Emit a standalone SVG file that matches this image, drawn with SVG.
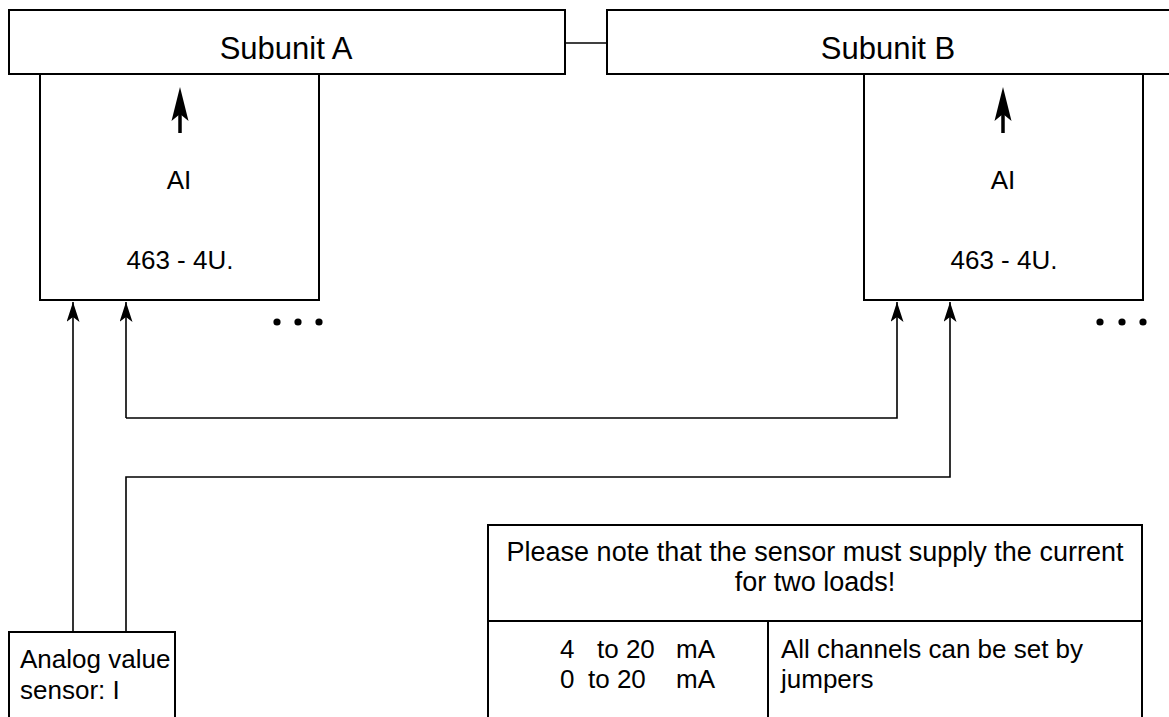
<svg xmlns="http://www.w3.org/2000/svg" xmlns:xlink="http://www.w3.org/1999/xlink" width="1169" height="717" viewBox="0 0 1169 717">
<style>
.box{fill:none;stroke:#000;stroke-width:2}
.wire{fill:none;stroke:#000;stroke-width:1.6}
.t{font-family:"Liberation Sans",Arial,sans-serif;font-size:26px;fill:#000}
.n{font-family:"Liberation Sans",Arial,sans-serif;font-size:27px;fill:#000}
.h{font-family:"Liberation Sans",Arial,sans-serif;font-size:31px;fill:#000}
.dot{fill:#000}
</style>
<defs>
<marker id="ah" viewBox="-20 -6.5 20 13" refX="0" refY="0" markerWidth="20" markerHeight="13" markerUnits="userSpaceOnUse" orient="auto">
<path d="M0,0 L-20,-6.5 L-15,0 L-20,6.5 Z" fill="#000"/>
</marker>
<g id="bigarrow">
<line x1="0" y1="22" x2="0" y2="46" stroke="#000" stroke-width="3.5"/>
<path d="M0,0 L-8.5,34 L0,27 L8.5,34 Z" fill="#000"/>
</g>
</defs>
<rect width="1169" height="717" fill="#fff"/>
<g id="subunitA">
<rect class="box" x="9" y="10" width="556" height="64"/>
<text class="h" x="286" y="59" text-anchor="middle">Subunit A</text>
</g>
<g id="subunitB">
<rect class="box" x="607" y="10" width="580" height="64"/>
<text class="h" x="888" y="59" text-anchor="middle">Subunit B</text>
</g>
<g id="moduleA">
<path class="box" d="M40,74 V300 H319 V74"/>
<use xlink:href="#bigarrow" x="180" y="87"/>
<text class="t" x="179" y="189" text-anchor="middle">AI</text>
<text class="t" x="180" y="269" text-anchor="middle">463 - 4U.</text>
<circle class="dot" cx="277" cy="322" r="3.6"/>
<circle class="dot" cx="298" cy="322" r="3.6"/>
<circle class="dot" cx="319" cy="322" r="3.6"/>
</g>
<g id="moduleB">
<path class="box" d="M864,74 V300 H1143 V74"/>
<use xlink:href="#bigarrow" x="1003" y="87"/>
<text class="t" x="1003" y="189" text-anchor="middle">AI</text>
<text class="t" x="1004" y="269" text-anchor="middle">463 - 4U.</text>
<circle class="dot" cx="1100" cy="322" r="3.6"/>
<circle class="dot" cx="1122" cy="322" r="3.6"/>
<circle class="dot" cx="1143" cy="322" r="3.6"/>
</g>
<g id="sensor">
<path class="box" d="M9,720 V632 H175 V720"/>
<text class="t" x="20" y="668">Analog value</text>
<text class="t" x="20" y="699">sensor: I</text>
</g>
<g id="note">
<path class="box" d="M488,720 V525 H1142 V720"/>
<line class="box" x1="488" y1="621" x2="1142" y2="621"/>
<line class="box" x1="768" y1="621" x2="768" y2="720"/>
<text class="n" x="815" y="561" text-anchor="middle">Please note that the sensor must supply the current</text>
<text class="n" x="815" y="591" text-anchor="middle">for two loads!</text>
<text class="t" x="560" y="658">4</text>
<text class="t" x="597" y="658">to 20</text>
<text class="t" x="676" y="658">mA</text>
<text class="t" x="560" y="688">0</text>
<text class="t" x="588" y="688">to 20</text>
<text class="t" x="676" y="688">mA</text>
<text class="t" x="781" y="658">All channels can be set by</text>
<text class="t" x="781" y="688">jumpers</text>
</g>
<g id="connectors">
<line class="wire" x1="565" y1="43" x2="607" y2="43"/>
<path class="wire" d="M73,632 V302" marker-end="url(#ah)"/>
<path class="wire" d="M126,418 V302" marker-end="url(#ah)"/>
<path class="wire" d="M126,418 H897 V302" marker-end="url(#ah)"/>
<path class="wire" d="M126,632 V477 H950 V302" marker-end="url(#ah)"/>
</g>
</svg>
